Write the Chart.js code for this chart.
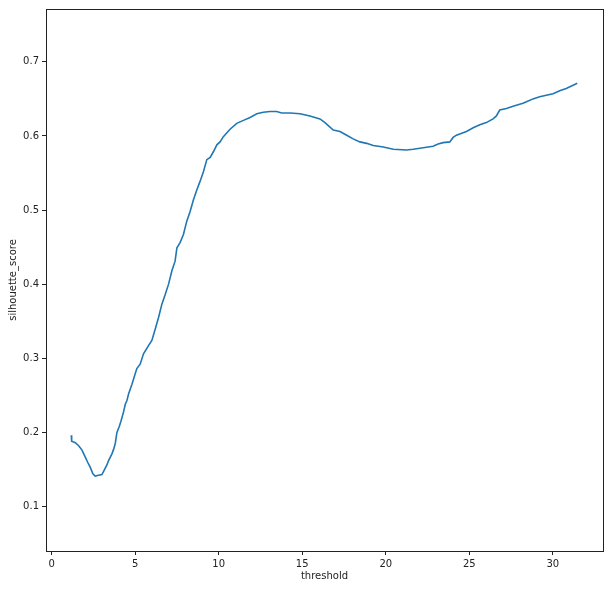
<!DOCTYPE html>
<html>
<head>
<meta charset="utf-8">
<script src="https://cdn.jsdelivr.net/npm/chart.js@4"></script>
<style>
  html, body { margin: 0; padding: 0; background: #fff; }
  #wrap { width: 610px; height: 589px; }
</style>
</head>
<body>
<div id="wrap"><canvas id="chart" width="610" height="589"></canvas></div>
<script>
// values
const thresholds = [1.18, 1.2, 1.42, 1.62, 1.82, 2.01, 2.15, 2.31, 2.47, 2.61, 2.81, 3.01, 3.15, 3.31, 3.41, 3.61, 3.71, 3.81, 3.91, 4.05,
  4.15, 4.30, 4.41, 4.51, 4.61, 4.81, 5.10, 5.30, 5.50, 5.80, 6.00, 6.20, 6.40, 6.60, 6.80, 7.00, 7.20, 7.39, 7.50, 7.69,
  7.89, 8.09, 8.29, 8.49, 8.69, 8.89, 9.09, 9.29, 9.49, 9.69, 9.89, 10.08, 10.28, 10.68, 11.08, 11.48, 11.88, 12.28, 12.67, 13.07,
  13.47, 13.77, 14.27, 14.87, 15.46, 16.06, 16.36, 16.66, 16.86, 17.26, 17.66, 18.05, 18.45, 18.85, 19.25, 19.85, 20.45, 21.24, 21.64, 22.24,
  22.83, 23.13, 23.43, 23.83, 24.03, 24.23, 24.83, 25.23, 25.63, 26.02, 26.42, 26.62, 26.82, 27.22, 27.62, 28.21, 28.42, 28.81, 29.21, 29.61,
  30.01, 30.41, 30.80, 31.46];
const silhouetteScores = [0.196, 0.188, 0.186, 0.182, 0.176, 0.167, 0.160, 0.153, 0.144, 0.141, 0.142, 0.143, 0.149, 0.156, 0.162, 0.171, 0.177, 0.185, 0.200, 0.208,
  0.215, 0.227, 0.238, 0.243, 0.252, 0.265, 0.286, 0.292, 0.306, 0.317, 0.324, 0.339, 0.355, 0.373, 0.386, 0.400, 0.418, 0.431, 0.449, 0.456,
  0.467, 0.485, 0.498, 0.514, 0.527, 0.539, 0.552, 0.568, 0.571, 0.579, 0.588, 0.592, 0.599, 0.609, 0.617, 0.621, 0.625, 0.630, 0.632, 0.633,
  0.633, 0.631, 0.631, 0.630, 0.627, 0.623, 0.618, 0.612, 0.608, 0.606, 0.601, 0.596, 0.592, 0.590, 0.587, 0.585, 0.582, 0.581, 0.582, 0.584,
  0.586, 0.589, 0.591, 0.592, 0.598, 0.601, 0.606, 0.611, 0.615, 0.618, 0.623, 0.627, 0.635, 0.637, 0.640, 0.644, 0.646, 0.650, 0.653, 0.655,
  0.657, 0.661, 0.664, 0.671];
const xTicks = [0, 5, 10, 15, 20, 25, 30];
const yTicks = [0.1, 0.2, 0.3, 0.4, 0.5, 0.6, 0.7];

const points = thresholds.map((t, i) => ({ x: t, y: silhouetteScores[i] }));

// matplotlib style box round the axes
const frame = {
  id: 'frame',
  afterDraw(chart) {
    const { ctx, chartArea: a } = chart;
    ctx.save();
    ctx.strokeStyle = '#222';
    ctx.lineWidth = 1;
    ctx.strokeRect(Math.round(a.left) + 0.5, Math.round(a.top) + 0.5,
      Math.round(a.right - a.left), Math.round(a.bottom - a.top));
    ctx.restore();
  }
};

const tickFont = { family: 'DejaVu Sans', size: 10 };

new Chart(document.getElementById('chart'), {
  type: 'line',
  data: {
    datasets: [{
      data: points,
      borderColor: '#1f77b4',
      borderWidth: 1.6,
      pointRadius: 0,
      tension: 0,
      fill: false
    }]
  },
  options: {
    responsive: false,
    animation: false,
    layout: { padding: { top: 7, right: 7, left: 0, bottom: 0 } },
    plugins: { legend: { display: false }, tooltip: { enabled: false } },
    scales: {
      x: {
        type: 'linear',
        min: -0.335,
        max: 33.0,
        afterBuildTicks: s => { s.ticks = xTicks.map(v => ({ value: v })); },
        afterFit: s => { s.height = 38; },
        grid: { drawOnChartArea: false, tickLength: 4, tickColor: '#222', lineWidth: 1 },
        border: { display: false },
        ticks: { color: '#222', font: tickFont, padding: 3, maxRotation: 0 },
        title: { display: true, text: 'threshold', color: '#222', font: tickFont, padding: { top: 0, bottom: 7 } }
      },
      y: {
        type: 'linear',
        min: 0.0399,
        max: 0.7713,
        afterBuildTicks: s => { s.ticks = yTicks.map(v => ({ value: v })); },
        afterFit: s => { s.width = 46; },
        grid: { drawOnChartArea: false, tickLength: 4, tickColor: '#222', lineWidth: 1 },
        border: { display: false },
        ticks: { color: '#222', font: tickFont, padding: 3, callback: v => v.toFixed(1) },
        title: { display: true, text: 'silhouette_score', color: '#222', font: tickFont, padding: { top: 7, bottom: 0 } }
      }
    }
  },
  plugins: [frame]
});
</script>
</body>
</html>
